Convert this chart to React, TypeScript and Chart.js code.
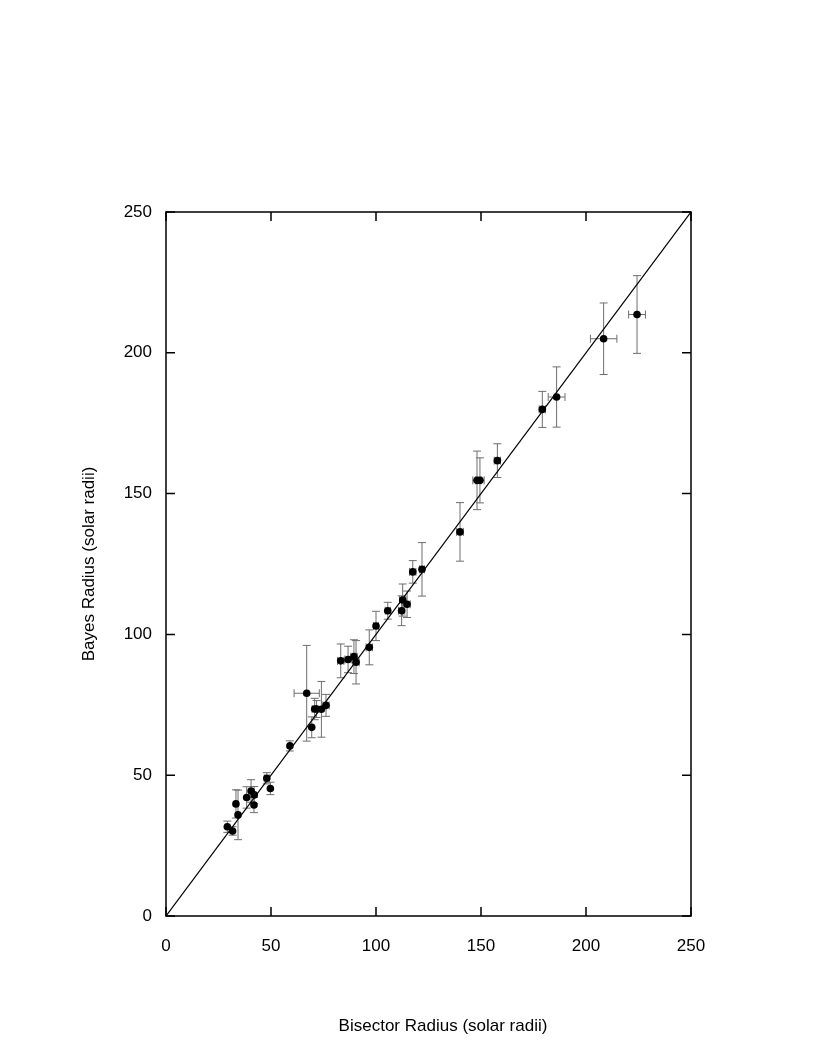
import React, { useEffect, useRef } from "react";
import { Chart, registerables } from "chart.js";

Chart.register(...registerables);

// Bisector radius (x, solar radii)
const bisectorRadius = [
  29.2, 31.7, 33.3, 34.3, 38.4, 40.5, 42.0, 41.9, 48.0, 49.7,
  59.0, 67.0, 69.4, 70.8, 71.7, 74.0, 76.2, 83.2, 86.7, 89.5,
  90.5, 96.8, 100.0, 105.6, 112.2, 112.7, 114.8, 117.5, 121.9, 140.0,
  148.1, 149.5, 157.8, 179.2, 186.0, 208.4, 224.3,
];
// Bayes radius (y, solar radii)
const bayesRadius = [
  31.7, 30.2, 39.8, 35.9, 42.1, 44.4, 43.0, 39.4, 48.9, 45.3,
  60.4, 79.1, 67.0, 73.5, 73.5, 73.4, 74.8, 90.6, 91.1, 92.1,
  90.1, 95.4, 103.0, 108.4, 108.4, 112.2, 110.7, 122.2, 123.1, 136.4,
  154.7, 154.7, 161.7, 179.9, 184.3, 205.0, 213.6,
];
// Bayes radius uncertainty (±)
const bayesError = [
  2.0, 1.5, 5.0, 8.8, 3.8, 4.0, 3.0, 2.7, 2.0, 2.2,
  1.8, 17.0, 3.7, 3.8, 3.0, 9.9, 3.9, 6.0, 4.7, 6.0,
  7.7, 6.2, 5.2, 3.0, 5.3, 5.7, 4.7, 4.0, 9.5, 10.4,
  10.4, 8.0, 6.0, 6.4, 10.7, 12.7, 13.8,
];
// Bisector radius uncertainty (±)
const bisectorError = [
  0, 0, 0, 0, 0, 0, 0, 0, 1.2, 0,
  0, 6.0, 0, 1.2, 0, 0, 1.5, 1.5, 1.5, 1.5,
  1.5, 1.5, 1.2, 1.2, 1.5, 1.5, 1.5, 1.5, 1.2, 1.6,
  2.0, 2.0, 1.5, 1.5, 4.0, 6.3, 4.0,
];
// One-to-one reference line
const lineX = [0, 250];
const lineY = [0, 250];
const tickValues = [0, 50, 100, 150, 200, 250];

const xTitle = "Bisector Radius (solar radii)";
const yTitle = "Bayes Radius (solar radii)";
const FONT = "'Liberation Sans', Arial, Helvetica, sans-serif";

export default function App() {
  const ref = useRef<HTMLCanvasElement | null>(null);

  useEffect(() => {
    if (!ref.current) return;
    Chart.defaults.font.family = FONT;

    const points = bisectorRadius.map((x, i) => ({ x, y: bayesRadius[i] }));
    const line = lineX.map((x, i) => ({ x, y: lineY[i] }));

    const errorPlugin = {
      id: "errorbars",
      beforeDatasetsDraw(chart: any) {
        const { ctx, chartArea, scales } = chart;
        const xs = scales.x;
        const ys = scales.y;
        ctx.save();
        ctx.beginPath();
        ctx.rect(chartArea.left, chartArea.top, chartArea.width, chartArea.height);
        ctx.clip();
        ctx.strokeStyle = "#6e6e6e";
        ctx.lineWidth = 1;
        const cap = 4;
        bisectorRadius.forEach((xv, i) => {
          const yv = bayesRadius[i];
          const px = xs.getPixelForValue(xv);
          const py = ys.getPixelForValue(yv);
          const e = bayesError[i];
          if (e > 0) {
            const top = ys.getPixelForValue(yv + e);
            const bot = ys.getPixelForValue(yv - e);
            ctx.beginPath();
            ctx.moveTo(px, top);
            ctx.lineTo(px, bot);
            ctx.moveTo(px - cap, top);
            ctx.lineTo(px + cap, top);
            ctx.moveTo(px - cap, bot);
            ctx.lineTo(px + cap, bot);
            ctx.stroke();
          }
          const h = bisectorError[i];
          if (h > 0) {
            const l = xs.getPixelForValue(xv - h);
            const r = xs.getPixelForValue(xv + h);
            ctx.beginPath();
            ctx.moveTo(l, py);
            ctx.lineTo(r, py);
            ctx.moveTo(l, py - cap);
            ctx.lineTo(l, py + cap);
            ctx.moveTo(r, py - cap);
            ctx.lineTo(r, py + cap);
            ctx.stroke();
          }
        });
        ctx.restore();
      },
      afterDraw(chart: any) {
        const { ctx, chartArea, scales } = chart;
        const xs = scales.x;
        const ys = scales.y;
        const { left, right, top, bottom } = chartArea;
        ctx.save();
        ctx.strokeStyle = "#000";
        ctx.lineWidth = 1.5;
        ctx.strokeRect(left, top, right - left, bottom - top);
        const tl = 9;
        ctx.beginPath();
        tickValues.forEach((v) => {
          const px = xs.getPixelForValue(v);
          const py = ys.getPixelForValue(v);
          ctx.moveTo(px, bottom);
          ctx.lineTo(px, bottom - tl);
          ctx.moveTo(px, top);
          ctx.lineTo(px, top + tl);
          ctx.moveTo(left, py);
          ctx.lineTo(left + tl, py);
          ctx.moveTo(right, py);
          ctx.lineTo(right - tl, py);
        });
        ctx.stroke();
        ctx.fillStyle = "#000";
        ctx.font = "17px " + FONT;
        ctx.textAlign = "center";
        ctx.textBaseline = "middle";
        ctx.fillText(xTitle, 443, 1026);
        ctx.restore();
      },
    };

    const chart = new Chart(ref.current, {
      type: "scatter",
      data: {
        datasets: [
          {
            type: "line",
            data: line,
            borderColor: "#000",
            borderWidth: 1.2,
            pointRadius: 0,
            fill: false,
            order: 2,
          } as any,
          {
            type: "scatter",
            data: points,
            backgroundColor: "#000",
            borderColor: "#000",
            borderWidth: 0,
            pointRadius: 3.8,
            order: 1,
          },
        ],
      },
      options: {
        animation: false,
        responsive: false,
        devicePixelRatio: 1,
        layout: { padding: { top: 212, right: 139, left: 0, bottom: 0 } },
        plugins: { legend: { display: false }, tooltip: { enabled: false } },
        scales: {
          x: {
            type: "linear",
            min: 0,
            max: 250,
            afterBuildTicks: (s: any) => {
              s.ticks = tickValues.map((v) => ({ value: v }));
            },
            afterFit: (s: any) => {
              s.height = 142;
            },
            ticks: { color: "#000", font: { size: 17 }, padding: 20 },
            grid: { display: false, drawTicks: false },
            border: { display: false },
          },
          y: {
            type: "linear",
            min: 0,
            max: 250,
            afterBuildTicks: (s: any) => {
              s.ticks = tickValues.map((v) => ({ value: v }));
            },
            afterFit: (s: any) => {
              s.width = 166;
            },
            ticks: { color: "#000", font: { size: 17 }, padding: 14 },
            grid: { display: false, drawTicks: false },
            border: { display: false },
            title: {
              display: true,
              text: yTitle,
              color: "#000",
              font: { size: 17 },
              padding: { top: 79, bottom: 0 },
            },
          },
        },
      },
      plugins: [errorPlugin],
    });
    return () => chart.destroy();
  }, []);

  return (
    <div style={{ position: "absolute", left: 0, top: 0, width: 830, height: 1058, background: "#fff" }}>
      <canvas ref={ref} width={830} height={1058} style={{ width: 830, height: 1058, display: "block" }} />
    </div>
  );
}
